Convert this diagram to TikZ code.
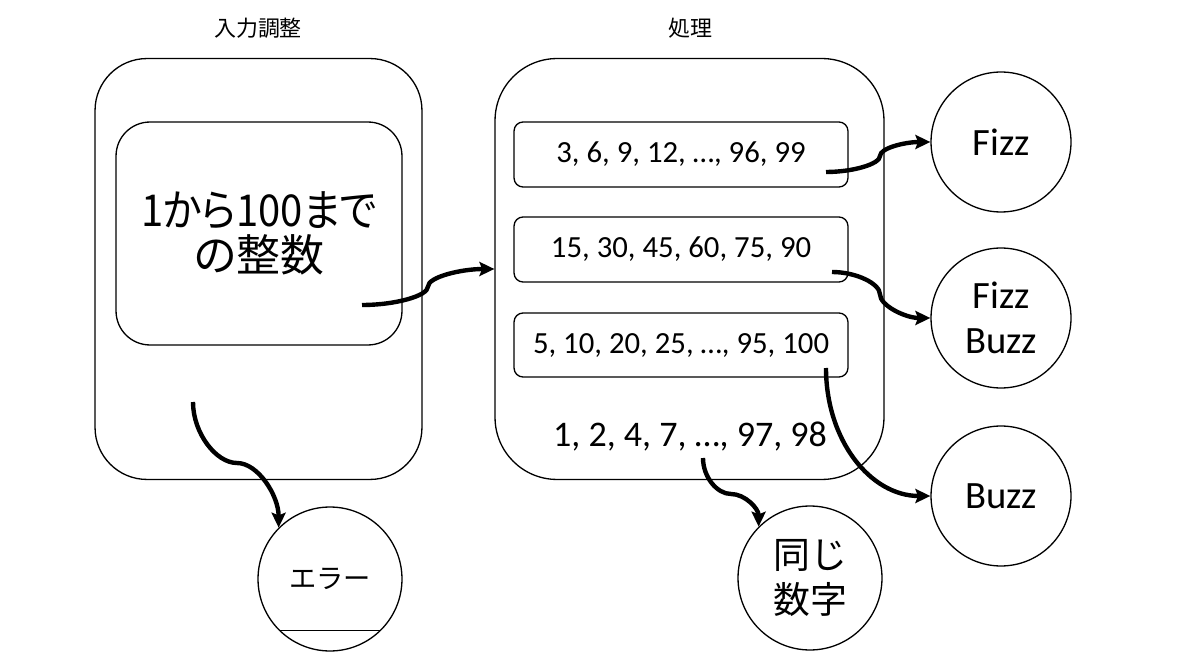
\documentclass[tikz,border=0pt]{standalone}
\usepackage{fontspec}
\usepackage{graphicx}
\setmainfont{Carlito}
\newfontfamily\jp{Noto Sans CJK JP}
\newfontfamily\jpp[RawFeature=+palt]{Noto Sans CJK JP}
\usetikzlibrary{arrows.meta}
\begin{document}
\begin{tikzpicture}[x=0.02cm,y=-0.02cm,
  box/.style={draw, line width=0.75pt, inner sep=0pt},
  circ/.style={draw, circle, line width=0.75pt, minimum size=2.8cm, inner sep=0pt},
  numtxt/.style={font=\fontsize{17.5}{21}\selectfont},
  arr/.style={line width=2.5pt, -{Stealth[length=8.5pt,width=8pt,inset=1.5pt]}},
  lbl/.style={font=\jp\fontsize{12.5}{15}\selectfont}
  ]
\useasboundingbox (0,0) rectangle (1200,665);

% input adjustment
\node[box, minimum width=6.54cm, minimum height=8.42cm, rounded corners=1.04cm] (inp) at (258.5,269) {};
\node[lbl] (linp) at (258,28) {入力調整};
\node[box, minimum width=5.72cm, minimum height=4.46cm, rounded corners=0.68cm, align=center,
      font=\jpp\fontsize{25}{25.6}\selectfont] (nums) at (259,233.5) {\scalebox{0.91}[1]{1から100まで}\\の整数};

% processing
\node[box, minimum width=7.78cm, minimum height=8.42cm, rounded corners=1.24cm] (proc) at (689.5,269) {};
\node[lbl] (lproc) at (690,28) {処理};
\node[box, numtxt, minimum width=6.68cm, minimum height=1.3cm, rounded corners=0.18cm] (b3) at (681,154.5) {3, 6, 9, 12, …, 96, 99};
\node[box, numtxt, minimum width=6.68cm, minimum height=1.3cm, rounded corners=0.18cm] (b15) at (681,249.5) {15, 30, 45, 60, 75, 90};
\node[box, numtxt, minimum width=6.68cm, minimum height=1.28cm, rounded corners=0.18cm] (b5) at (681,345) {5, 10, 20, 25, …, 95, 100};
\node[font=\fontsize{20.5}{24}\selectfont] (rest) at (690,437) {1, 2, 4, 7, …, 97, 98};

% results
\node[circ, font=\fontsize{22}{26}\selectfont] (fizz) at (1001,142) {Fizz};
\node[circ, align=center, font=\fontsize{22}{26}\selectfont] (fb) at (1001,318) {Fizz\\Buzz};
\node[circ, font=\fontsize{22}{26}\selectfont] (buzz) at (1001,496) {Buzz};
\node[circ, minimum size=2.88cm, align=center, font=\jp\fontsize{21}{26}\selectfont] (same) at (810,578) {同じ\\数字};
\node[circ, minimum size=2.88cm, font=\jp\fontsize{15.5}{18}\selectfont] (err) at (330,579) {エラー};
\draw[line width=0.75pt] (err.225) -- (err.315);

% connectors
\coordinate (s1) at (362,305);
\coordinate (s2) at (826,172);
\coordinate (s3) at (832,272);
\coordinate (s4) at (826,368);
\coordinate (s5) at (703,458);
\coordinate (s6) at (193,402);

\draw[arr] (s1) .. controls +(33,0) and +(0,9.5) .. (428,286.5) .. controls +(0,-9.5) and +(-33,0) .. (proc.west);
\draw[arr] (s2) .. controls +(27,0) and +(0,8) .. (880,156) .. controls +(0,-8) and +(-25,0) .. (fizz.west);
\draw[arr] (s3) .. controls +(24,0) and +(0,-11) .. (880,294.5) .. controls +(0,11) and +(-25,0) .. (fb.west);
\draw[arr] (s4) .. controls +(0,72) and +(-60,0) .. (buzz.west);
\draw[arr] (s5) .. controls +(0,19) and +(-14,0) .. (731,494) .. controls +(14,0) and +(0,-18) .. (same.135);
\draw[arr] (s6) .. controls +(0,31) and +(-21,0) .. (237,463) .. controls +(21,0) and +(0,-32) .. (err.135);
\end{tikzpicture}
\end{document}
